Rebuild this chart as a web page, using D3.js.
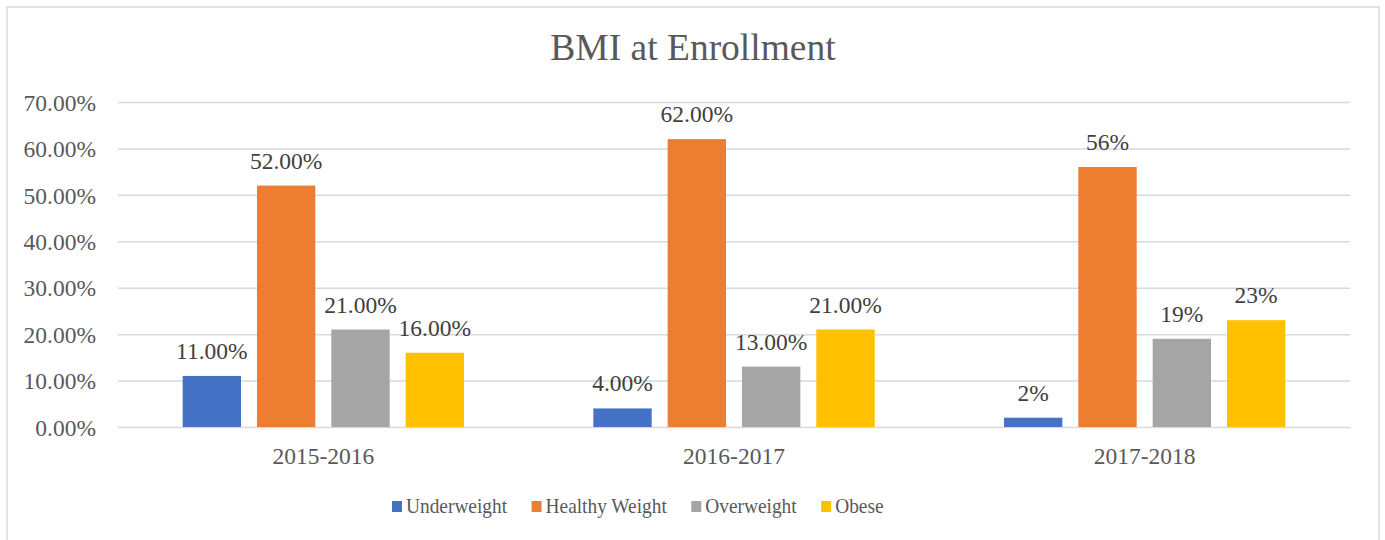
<!DOCTYPE html>
<html>
<head>
<meta charset="utf-8">
<script src="https://cdn.jsdelivr.net/npm/d3@7"></script>
<style>
  body { margin: 0; background: #fff; }
</style>
</head>
<body>
<div id="chart"></div>
<script>
// BMI at Enrollment - grouped bars
var years = ["2015-2016", "2016-2017", "2017-2018"];
var series = ["Underweight", "Healthy Weight", "Overweight", "Obese"];
var colors = ["#4472C4", "#ED7D31", "#A5A5A5", "#FFC000"];
var underweight = [0.11, 0.04, 0.02];
var healthyWeight = [0.52, 0.62, 0.56];
var overweight = [0.21, 0.13, 0.19];
var obese = [0.16, 0.21, 0.23];
var labelDecimals = [2, 2, 0];   // the last year is labelled without decimals
var yTicks = [0, 0.1, 0.2, 0.3, 0.4, 0.5, 0.6, 0.7];

var values = [underweight, healthyWeight, overweight, obese];
var font = "'Liberation Serif', 'Times New Roman', Tinos, 'DejaVu Serif', serif";

var width = 1385, height = 540;
var margin = {top: 102, right: 35, bottom: 113, left: 118};
var plotW = width - margin.left - margin.right;
var plotH = height - margin.top - margin.bottom;

var svg = d3.select("#chart").append("svg")
    .attr("width", width)
    .attr("height", height)
    .style("font-family", font);

// chart border
svg.append("rect")
    .attr("x", 7).attr("y", 7)
    .attr("width", 1372).attr("height", 545)
    .attr("fill", "#fff")
    .attr("stroke", "#D9D9D9")
    .attr("stroke-width", 1.5);

svg.append("text")
    .attr("x", 693).attr("y", 60)
    .attr("text-anchor", "middle")
    .style("font-family", font)
    .style("font-size", "37.5px")
    .attr("fill", "#595959")
    .text("BMI at Enrollment");

var g = svg.append("g")
    .attr("transform", "translate(" + margin.left + "," + margin.top + ")");

var x0 = d3.scaleBand().domain(years).range([0, plotW]);
var x1 = d3.scaleBand().domain(series).range([0, x0.bandwidth()])
    .paddingInner(0.215).paddingOuter(0.87);
var y = d3.scaleLinear().domain([0, 0.7]).range([plotH, 0]);

// gridlines + y labels
var yAxis = d3.axisLeft(y).tickValues(yTicks).tickSize(-plotW)
    .tickFormat(d3.format(".2%"));
g.append("g")
    .call(yAxis)
    .call(function(a) {
        a.select(".domain").remove();
        a.selectAll("line").attr("stroke", "#D9D9D9").attr("stroke-width", 1.5);
        a.selectAll("text")
            .attr("x", -22)
            .attr("dy", "0.35em")
            .style("font-size", "23.5px")
            .style("font-family", font)
            .attr("fill", "#595959");
    });

// x labels
var xAxis = d3.axisBottom(x0).tickSize(0);
g.append("g")
    .attr("transform", "translate(0," + plotH + ")")
    .call(xAxis)
    .call(function(a) {
        a.select(".domain").remove();
        a.selectAll("text")
            .attr("y", 37)
            .attr("dy", 0)
            .style("font-size", "23.5px")
            .style("font-family", font)
            .attr("fill", "#595959");
    });

// bars
series.forEach(function(s, si) {
    var grp = g.append("g");
    grp.selectAll("rect")
        .data(values[si])
        .enter()
        .append("rect")
        .attr("x", function(d, i) { return x0(years[i]) + x1(s); })
        .attr("y", function(d) { return y(d); })
        .attr("width", x1.bandwidth())
        .attr("height", function(d) { return plotH - y(d); })
        .attr("fill", colors[si]);
    grp.selectAll("text")
        .data(values[si])
        .enter()
        .append("text")
        .attr("x", function(d, i) { return x0(years[i]) + x1(s) + x1.bandwidth() / 2; })
        .attr("y", function(d) { return y(d) - 17; })
        .attr("text-anchor", "middle")
        .style("font-size", "23.5px")
        .style("font-family", font)
        .attr("fill", "#404040")
        .text(function(d, i) { return d3.format("." + labelDecimals[i] + "%")(d); });
});

// legend
var legend = svg.append("g").attr("transform", "translate(392,0)");
var lx = 0;
series.forEach(function(s, si) {
    legend.append("rect")
        .attr("x", lx).attr("y", 501)
        .attr("width", 10).attr("height", 11)
        .attr("fill", colors[si]);
    var t = legend.append("text")
        .attr("x", lx + 14).attr("y", 513)
        .style("font-size", "22px")
        .style("font-family", font)
        .attr("fill", "#595959")
        .text(s);
    var w = t.node().getComputedTextLength() * 0.88;
    t.attr("textLength", w).attr("lengthAdjust", "spacingAndGlyphs");
    lx += 14 + w + 24.5;
});
</script>
</body>
</html>
